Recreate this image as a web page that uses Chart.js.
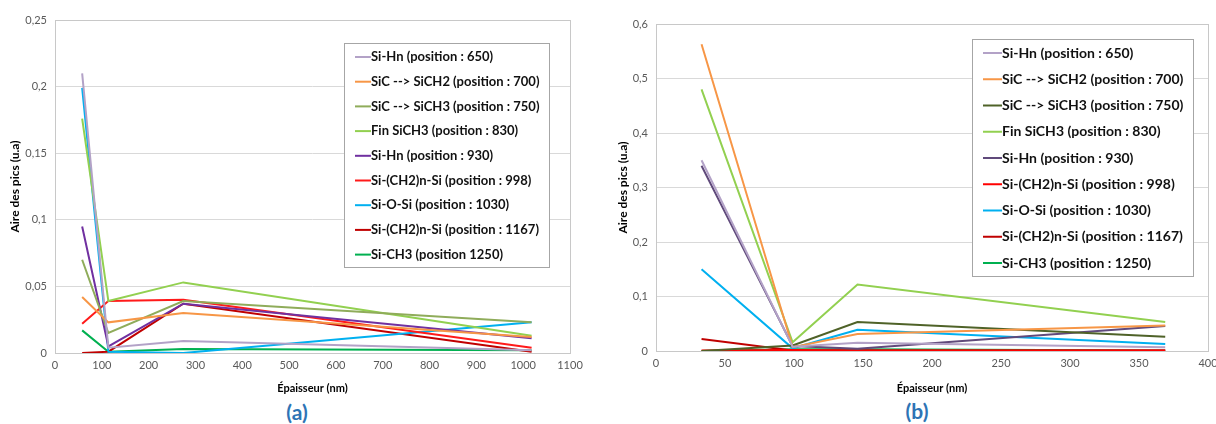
<!DOCTYPE html>
<html lang="fr">
<head>
<meta charset="UTF-8">
<title>Aire des pics</title>
<script src="https://cdn.jsdelivr.net/npm/chart.js"></script>
<style>
    html, body { margin: 0; padding: 0; background: #fff; overflow: hidden; width: 1216px; height: 424px; }
    .box { position: absolute; top: 0; height: 395px; }
    #boxA { left: 0; width: 600px; }
    #boxB { left: 600px; width: 624px; }
    .caption { position: absolute; font-family: Lato, "Open Sans", sans-serif; font-weight: bold; font-size: 21px; color: #2e74b5; transform: translate(-50%, -50%); }
</style>
</head>
<body>
<div class="box" id="boxA"><canvas id="chartA" width="600" height="395"></canvas></div>
<div class="box" id="boxB"><canvas id="chartB" width="624" height="395"></canvas></div>
<div class="caption" style="left:297px; top:411px;">(a)</div>
<div class="caption" style="left:917px; top:410px;">(b)</div>

<script>
// series labels (same for both charts)
const seriesLabels = [
    'Si-Hn (position : 650)',
    'SiC --> SiCH2 (position : 700)',
    'SiC --> SiCH3 (position : 750)',
    'Fin SiCH3 (position : 830)',
    'Si-Hn (position : 930)',
    'Si-(CH2)n-Si (position : 998)',
    'Si-O-Si (position : 1030)',
    'Si-(CH2)n-Si (position : 1167)',
    'Si-CH3 (position 1250)'
];
const seriesLabelsB = seriesLabels.slice(0, 8).concat(['Si-CH3 (position : 1250)']);

// chart (a)
const thicknessA = [58, 114, 274, 1018];
const siHn650A   = [0.210, 0.004, 0.009, 0.002];
const sicCh2A    = [0.042, 0.023, 0.030, 0.012];
const sicCh3A    = [0.070, 0.015, 0.039, 0.023];
const finSiCh3A  = [0.176, 0.039, 0.053, 0.013];
const siHn930A   = [0.095, 0.005, 0.037, 0.011];
const siCh2n998A = [0.022, 0.039, 0.040, 0.004];
const siOSiA     = [0.199, 0.001, 0.000, 0.023];
const siCh2n1167A = [0.000, 0.001, 0.037, 0.001];
const siCh3A     = [0.017, 0.001, 0.003, 0.002];
const colorsA = ['#b3a2c7', '#f79646', '#8fac5a', '#92d050', '#7030a0', '#ff1a1a', '#00b0f0', '#c00000', '#00b050'];

// chart (b)
const thicknessB = [33, 99, 146, 369];
const siHn650B   = [0.350, 0.008, 0.015, 0.007];
const sicCh2B    = [0.563, 0.007, 0.031, 0.047];
const sicCh3B    = [0.000, 0.010, 0.053, 0.026];
const finSiCh3B  = [0.480, 0.016, 0.122, 0.053];
const siHn930B   = [0.340, 0.009, 0.004, 0.046];
const siCh2n998B = [0.001, 0.002, 0.001, 0.001];
const siOSiB     = [0.150, 0.005, 0.039, 0.013];
const siCh2n1167B = [0.022, 0.001, 0.001, 0.001];
const siCh3B     = [0.000, 0.003, 0.003, 0.001];
const colorsB = ['#b3a2c7', '#f79646', '#4f6228', '#92d050', '#604a7b', '#ff0000', '#00b0f0', '#c00000', '#00b050'];

const FONT = 'Lato, "Open Sans", sans-serif';

// legend drawn inside the plot area, like the Excel one
const insideLegend = {
    id: 'insideLegend',
    afterDraw(chart, args, opts) {
        const ctx = chart.ctx;
        ctx.save();
        ctx.fillStyle = '#fff';
        ctx.fillRect(opts.x, opts.y, opts.w, opts.h);
        ctx.strokeStyle = '#a6a6a6';
        ctx.lineWidth = 1;
        ctx.strokeRect(opts.x + 0.5, opts.y + 0.5, opts.w, opts.h);
        ctx.font = 'bold ' + opts.size + 'px ' + FONT;
        ctx.textBaseline = 'middle';
        chart.data.datasets.forEach((ds, i) => {
            const cy = opts.firstY + i * opts.rowH;
            ctx.strokeStyle = ds.borderColor;
            ctx.lineWidth = 2;
            ctx.beginPath();
            ctx.moveTo(opts.x + opts.pad, cy);
            ctx.lineTo(opts.x + opts.pad + opts.lineLen, cy);
            ctx.stroke();
            ctx.fillStyle = '#111';
            ctx.fillText(ds.label, opts.x + opts.pad + opts.lineLen, cy);
        });
        ctx.restore();
    }
};

// grey frame round the plot area
const plotFrame = {
    id: 'plotFrame',
    beforeDatasetsDraw(chart) {
        const a = chart.chartArea;
        const ctx = chart.ctx;
        ctx.save();
        ctx.strokeStyle = '#c8c8c8';
        ctx.lineWidth = 1;
        ctx.strokeRect(Math.round(a.left) + 0.5, Math.round(a.top) + 0.5, Math.round(a.right - a.left), Math.round(a.bottom - a.top));
        ctx.restore();
    }
};

function commaTick(value) {
    return String(Math.round(value * 1000) / 1000).replace('.', ',');
}

function buildChart(canvasId, xs, series, labels, colors, cfg) {
    const datasets = series.map((ys, i) => ({
        label: labels[i],
        data: xs.map((x, j) => ({ x: x, y: ys[j] })),
        borderColor: colors[i],
        backgroundColor: colors[i],
        borderWidth: 2,
        pointRadius: 0,
        tension: 0,
        fill: false
    }));
    return new Chart(document.getElementById(canvasId).getContext('2d'), {
        type: 'line',
        data: { datasets: datasets },
        plugins: [plotFrame, insideLegend],
        options: {
            responsive: false,
            animation: false,
            layout: { padding: { left: 0, right: cfg.padRight, top: cfg.padTop, bottom: 0 } },
            plugins: {
                legend: { display: false },
                tooltip: { enabled: false },
                insideLegend: cfg.legend
            },
            scales: {
                x: {
                    type: 'linear',
                    min: 0,
                    max: cfg.xMax,
                    ticks: { stepSize: cfg.xStep, color: '#595959', font: { family: FONT, size: 11 }, padding: 6, maxRotation: 0, callback: v => String(v) },
                    grid: { display: false, drawTicks: false },
                    border: { display: false },
                    title: { display: true, text: 'Épaisseur (nm)', color: '#000', font: { family: FONT, size: 11, weight: 'bold' }, padding: { top: 0, bottom: 0 } },
                    afterFit: s => { s.height = cfg.xHeight; }
                },
                y: {
                    min: 0,
                    max: cfg.yMax,
                    ticks: { stepSize: cfg.yStep, color: '#595959', font: { family: FONT, size: 11 }, padding: 8, callback: commaTick },
                    grid: { color: '#d9d9d9', lineWidth: 1, drawTicks: false },
                    border: { display: false },
                    title: { display: true, text: 'Aire des pics (u.a)', color: '#000', font: { family: FONT, size: 12, weight: 'bold' }, padding: { top: cfg.yTitlePad, bottom: 0 } },
                    afterFit: s => { s.width = cfg.yWidth; }
                }
            }
        }
    });
}

buildChart('chartA', thicknessA,
    [siHn650A, sicCh2A, sicCh3A, finSiCh3A, siHn930A, siCh2n998A, siOSiA, siCh2n1167A, siCh3A],
    seriesLabels, colorsA,
    {
        xMax: 1100, xStep: 100, yMax: 0.25, yStep: 0.05,
        padRight: 30, padTop: 20, xHeight: 42, yWidth: 55, yTitlePad: 8,
        legend: { x: 344, y: 43, w: 205, h: 224, firstY: 57, rowH: 24.7, pad: 11, lineLen: 16, size: 13 }
    });

buildChart('chartB', thicknessB,
    [siHn650B, sicCh2B, sicCh3B, finSiCh3B, siHn930B, siCh2n998B, siOSiB, siCh2n1167B, siCh3B],
    seriesLabelsB, colorsB,
    {
        xMax: 400, xStep: 50, yMax: 0.6, yStep: 0.1,
        padRight: 16, padTop: 24, xHeight: 44, yWidth: 56, yTitlePad: 16,
        legend: { x: 372, y: 39, w: 221, h: 237, firstY: 53, rowH: 26.25, pad: 11, lineLen: 19, size: 14 }
    });
</script>
</body>
</html>
